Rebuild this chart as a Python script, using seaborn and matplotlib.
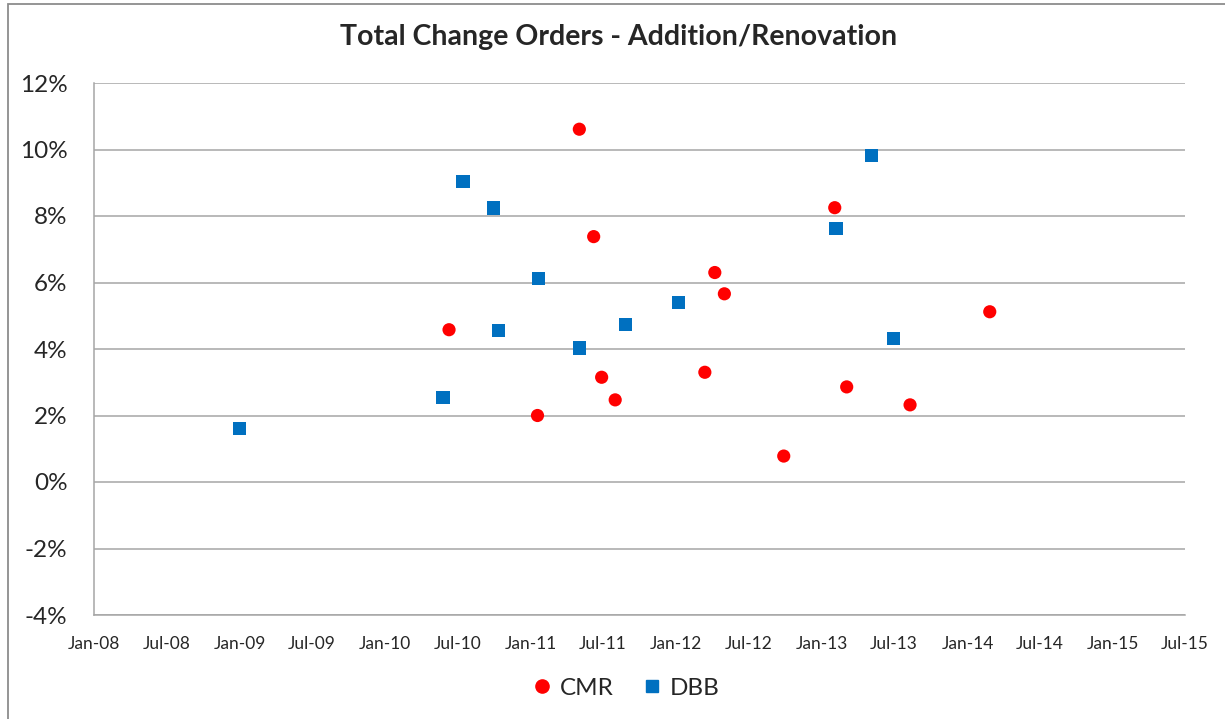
import pandas as pd
import numpy as np
import matplotlib
matplotlib.use('Agg')
import matplotlib.pyplot as plt
import matplotlib.dates as mdates
from matplotlib.patches import Rectangle
from matplotlib.ticker import FuncFormatter
import seaborn as sns

# Values (change orders as % of contract)
cmr_dates = ['2010-06-10', '2011-01-18', '2011-05-03', '2011-06-08', '2011-06-28',
             '2011-08-01', '2012-03-13', '2012-04-07', '2012-05-01', '2012-09-27',
             '2013-02-02', '2013-03-04', '2013-08-10', '2014-02-26']
cmr_pct = [4.58, 2.00, 10.61, 7.38, 3.15, 2.47, 3.30, 6.30, 5.66, 0.78,
           8.25, 2.86, 2.32, 5.12]

dbb_dates = ['2009-01-01', '2010-05-26', '2010-07-15', '2010-09-30', '2010-10-12',
             '2011-01-21', '2011-05-03', '2011-08-26', '2012-01-07', '2013-02-05',
             '2013-05-06', '2013-06-30']
dbb_pct = [1.60, 2.55, 9.03, 8.24, 4.56, 6.11, 4.03, 4.73, 5.41, 7.62, 9.82, 4.31]

y_ticks = [-4, -2, 0, 2, 4, 6, 8, 10, 12]
x_start, x_end = '2008-01-01', '2015-07-01'

df = pd.concat([
    pd.DataFrame({'date': pd.to_datetime(cmr_dates), 'pct': cmr_pct, 'method': 'CMR'}),
    pd.DataFrame({'date': pd.to_datetime(dbb_dates), 'pct': dbb_pct, 'method': 'DBB'}),
], ignore_index=True)

sns.set_style('white')
plt.rcParams['font.family'] = ['Lato', 'DejaVu Sans']

fig = plt.figure(figsize=(12.25, 7.19), dpi=100)
ax = fig.add_axes([94 / 1225, 1 - 615 / 719, (1185 - 94) / 1225, (615 - 83) / 719])

sns.scatterplot(data=df, x='date', y='pct', hue='method', style='method',
                palette={'CMR': '#FF0000', 'DBB': '#0070C0'},
                markers={'CMR': 'o', 'DBB': 's'}, s=90, linewidth=0, ax=ax,
                legend=False, zorder=3)

ax.set_xlim(pd.Timestamp(x_start), pd.Timestamp(x_end))
ax.set_ylim(-4, 12)
ax.set_yticks(y_ticks)
ax.yaxis.set_major_formatter(FuncFormatter(lambda v, p: f'{v:.0f}%'))
ax.xaxis.set_major_locator(mdates.MonthLocator(bymonth=[1, 7]))
ax.xaxis.set_major_formatter(mdates.DateFormatter('%b-%y'))
ax.tick_params(axis='x', length=0, labelsize=12.5, pad=15)
ax.tick_params(axis='y', length=0, labelsize=17.5, pad=19)
ax.set_xlabel('')
ax.set_ylabel('')

ax.grid(axis='y', color='#A6A6A6', linewidth=1.1)
ax.set_axisbelow(True)
for side in ['top', 'right']:
    ax.spines[side].set_visible(False)
for side in ['left', 'bottom']:
    ax.spines[side].set_color('#A6A6A6')
    ax.spines[side].set_linewidth(1.1)

fig.text(0.505, 1 - 37 / 719, 'Total Change Orders - Addition/Renovation',
         ha='center', va='center', fontsize=20.5, fontweight='bold')

handles = [
    plt.Line2D([], [], marker='o', linestyle='', color='#FF0000', markersize=9.5, label='CMR'),
    plt.Line2D([], [], marker='s', linestyle='', color='#0070C0', markersize=9, label='DBB'),
]
fig.legend(handles=handles, loc='center', bbox_to_anchor=(0.51, 1 - 688 / 719), ncol=2,
           frameon=False, fontsize=17.5, handletextpad=0.2, columnspacing=1.1,
           handlelength=1.0)

# outer chart border
fig.patches.append(Rectangle((8 / 1225, -0.05), 1.2, 1 - 4 / 719 + 0.05,
                             transform=fig.transFigure, fill=False,
                             edgecolor='#8C8C8C', linewidth=1.3))

fig.savefig('out.png', dpi=100)
